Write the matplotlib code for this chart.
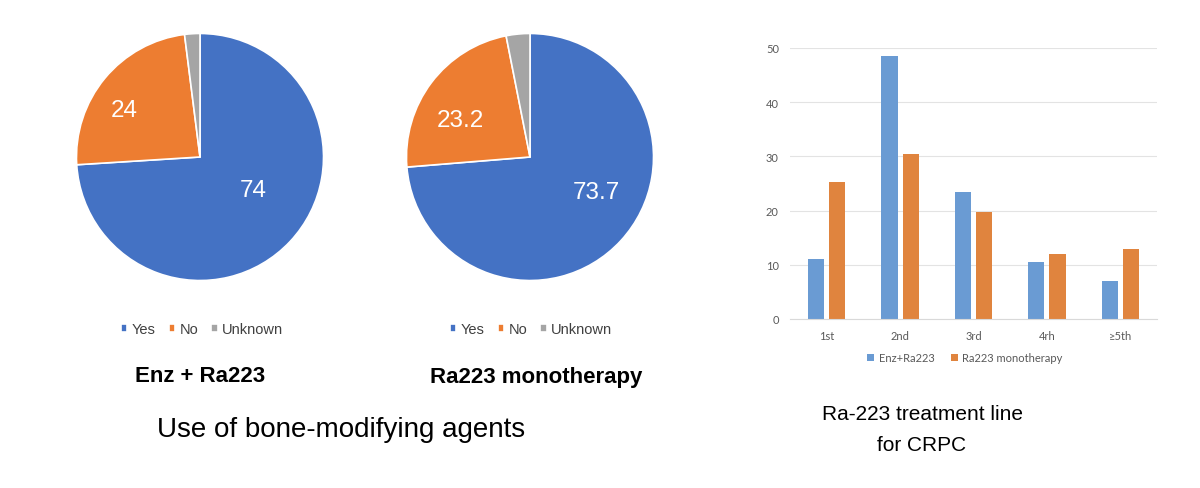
import numpy as np
import matplotlib.pyplot as plt

plt.rcParams['font.family'] = ['Liberation Sans', 'DejaVu Sans']

# pie data
pie_labels = ['Yes', 'No', 'Unknown']
enz_ra = [74, 24, 2]
ra_mono = [73.7, 23.2, 3.1]
pie_colors = ['#4472C4', '#ED7D31', '#A5A5A5']

# bar data
lines = ['1st', '2nd', '3rd', '4rh', '≥5th']
bar_enz = [11, 48.5, 23.5, 10.5, 7]
bar_mono = [25.3, 30.5, 19.7, 12, 13]

W, H = 1200, 489
fig = plt.figure(figsize=(12, 4.89), dpi=100)


def px_axes(x0, y0, x1, y1):
    # pixel box (top-left origin) -> figure axes
    return fig.add_axes([x0 / W, 1 - y1 / H, (x1 - x0) / W, (y1 - y0) / H])


def draw_pie(box, vals, lab_pos, leg_x, title, title_x):
    ax = px_axes(*box)
    wedges, _ = ax.pie(vals, colors=pie_colors, startangle=90, counterclock=False,
                       wedgeprops=dict(edgecolor='white', linewidth=1.2))
    ax.set_xlim(-1.02, 1.02)
    ax.set_ylim(-1.02, 1.02)
    ax.set_aspect('equal')
    for v, (x, y) in zip(vals[:2], lab_pos):
        ax.text(x, y, f'{v:g}', color='white', fontsize=17.5, ha='center', va='center')
    fig.legend(wedges, pie_labels, loc='center', bbox_to_anchor=(leg_x / W, 1 - 330 / H),
               ncol=3, frameon=False, fontsize=10.5, handlelength=0.45, handleheight=0.45,
               columnspacing=0.9, handletextpad=0.3, labelcolor='#404040')
    fig.text(title_x / W, 1 - 377 / H, title, fontsize=16, fontweight='bold',
             ha='center', va='center')


draw_pie((74, 32, 326, 284), enz_ra, [(0.43, -0.27), (-0.61, 0.38)], 202, 'Enz + Ra223', 200)
draw_pie((404, 32, 656, 284), ra_mono, [(0.54, -0.28), (-0.56, 0.30)], 531, 'Ra223 monotherapy', 536)

fig.text(341 / W, 1 - 430 / H, 'Use of bone-modifying agents', fontsize=20, ha='center', va='center')

# bar chart
bx = px_axes(790, 49, 1157, 320)
x = np.arange(len(lines))
w = 0.22
bx.bar(x - 0.145, bar_enz, w, color='#6A9BD3', label='Enz+Ra223')
bx.bar(x + 0.145, bar_mono, w, color='#E0843E', label='Ra223 monotherapy')
bx.set_xlim(-0.5, len(lines) - 0.5)
bx.set_ylim(0, 50)
bx.set_yticks([0, 10, 20, 30, 40, 50])
bx.set_xticks(x)
bx.set_xticklabels(lines)
bx.grid(axis='y', color='#E3E3E3', linewidth=0.8)
bx.set_axisbelow(True)
for s in ['top', 'right', 'left']:
    bx.spines[s].set_visible(False)
bx.spines['bottom'].set_color('#D9D9D9')
bx.tick_params(length=0, labelsize=8, colors='#595959', pad=8)
for t in bx.get_xticklabels() + bx.get_yticklabels():
    t.set_family(['Lato', 'DejaVu Sans'])
bx.legend(loc='center', bbox_to_anchor=(965 / W, 1 - 359 / H), bbox_transform=fig.transFigure,
          ncol=2, frameon=False, handlelength=0.6, handleheight=0.6,
          columnspacing=1.5, handletextpad=0.4, labelcolor='#595959',
          prop={'family': ['Lato', 'DejaVu Sans'], 'size': 8})

fig.text(922 / W, 1 - 430 / H, 'Ra-223 treatment line\nfor CRPC', fontsize=15,
         ha='center', va='center', linespacing=1.75)

plt.savefig('out.png', dpi=100)
